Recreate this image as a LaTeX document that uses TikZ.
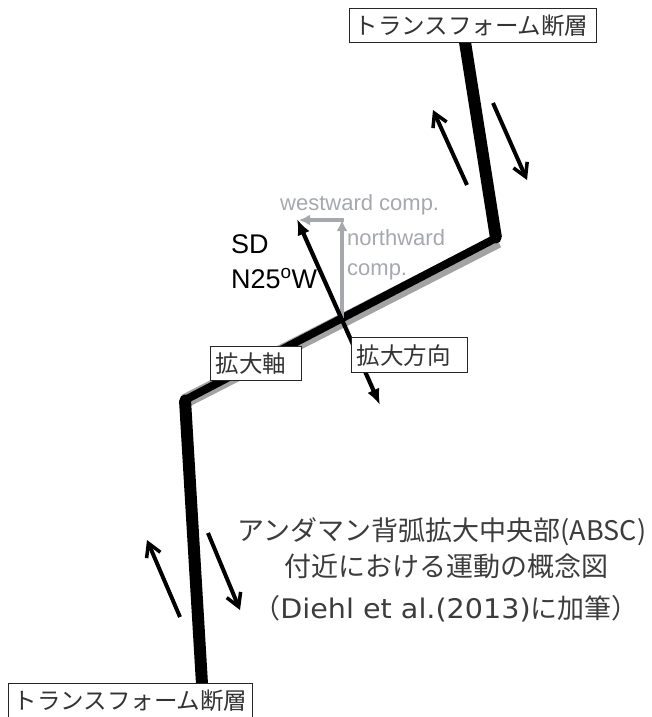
\documentclass[tikz,border=0pt]{standalone}
\usepackage{fontspec}
\setmainfont{Liberation Sans}
\newfontfamily\jp{Noto Sans CJK JP}
\newfontfamily\dv[FakeStretch=1.06]{DejaVu Sans}
\usetikzlibrary{arrows.meta,calc}
\definecolor{compgray}{RGB}{165,168,172}
\definecolor{shadowgray}{RGB}{140,140,140}
\definecolor{txtgray}{RGB}{60,60,60}
\begin{document}
\begin{tikzpicture}[x=1pt,y=-1pt,
  labelbox/.style={draw=black!85, line width=1.3pt, fill=white, anchor=north west,
    inner sep=0pt, inner xsep=5pt, align=left,
    font=\jp\fontsize{23.5}{27}\selectfont, text=black!80},
  fault/.style={line width=12pt, black, line join=miter},
  axisline/.style={line width=8pt, black},
  axisshadow/.style={line width=14pt, shadowgray, opacity=0.8},
  slip/.style={line width=4pt, -{Straight Barb[length=13pt,width=15pt,line width=3.5pt]}},
  sdarrow/.style={line width=4.2pt, {Latex[length=16pt,width=13pt]}-{Latex[length=16pt,width=13pt]}},
  comparrow/.style={line width=4.5pt, compgray, -{Latex[length=11pt,width=11pt]}},
  comptext/.style={text=compgray, font=\fontsize{22}{26}\selectfont, inner sep=0pt, anchor=base west},
  sdtext/.style={text=black, font=\fontsize{27}{30}\selectfont, inner sep=0pt, anchor=base west},
  captext/.style={text=txtgray, font=\jp\fontsize{27}{32}\selectfont, inner sep=0pt, anchor=base},
]
\useasboundingbox (0,0) rectangle (651,717);

% key points
\coordinate (f1) at (465,42);
\coordinate (c1) at (496,238);
\coordinate (c2) at (185,400);
\coordinate (f2) at (202,684);

% spreading axis with gray shadow
\draw[axisshadow] ($(c1)+(2,3)$) -- ($(c2)+(0,1)$);
\draw[axisline] (c1) -- (c2);
% transform faults
\draw[fault] (f1) -- (c1);
\draw[fault] (c2) -- (f2);
% fill the corners
\fill[black] (c1) circle (5.5pt);
\fill[black] (c2) circle (5.5pt);

% slip arrows on the upper fault
\coordinate (ua1) at (467,185); \coordinate (ua2) at (433,110);
\coordinate (ub1) at (493,103); \coordinate (ub2) at (527,180);
\draw[slip] (ua1) -- (ua2);
\draw[slip] (ub1) -- (ub2);
% slip arrows on the lower fault
\coordinate (la1) at (180,617); \coordinate (la2) at (147,540);
\coordinate (lb1) at (208,533); \coordinate (lb2) at (240,610);
\draw[slip] (la1) -- (la2);
\draw[slip] (lb1) -- (lb2);

% components
\coordinate (nb) at (342,318);
\coordinate (nc) at (342,220);
\coordinate (ncr) at (344.2,220);
\coordinate (wt) at (299,220);
\draw[comparrow] (nb) -- (nc);
\draw[comparrow] (ncr) -- (wt);

% spreading direction arrow
\coordinate (sdu) at (297,219);
\coordinate (sdl) at (380,405);
\draw[sdarrow] (sdl) -- (sdu);

% texts
\node[comptext] (wtxt) at (280,210) {westward comp.};
\node[comptext] (ntxt1) at (347,245) {northward};
\node[comptext] (ntxt2) at (347,275) {comp.};
\node[sdtext] (sd1) at (231,253) {SD};
\node[sdtext] (sd2) at (231,288) {N25\textsuperscript{o}W};

% label boxes
\node[labelbox, text width=237pt, minimum height=34pt] (tb) at (349,8) {トランスフォーム断層};
\node[labelbox, text width=234pt, minimum height=34pt] (bb) at (8,683) {トランスフォーム断層};
\node[labelbox, text width=81pt, minimum height=34pt] (ax) at (210,346) {拡大軸};
\node[labelbox, text width=106pt, minimum height=35pt] (dir) at (351,337) {拡大方向};

% caption
\node[captext] (cap1) at (442,540) {アンダマン背弧拡大中央部(ABSC)};
\node[captext] (cap2) at (446,576) {付近における運動の概念図};
\node[captext] (cap3) at (446,618) {（{\dv Diehl et al.(2013)}に加筆）};
\end{tikzpicture}
\end{document}
